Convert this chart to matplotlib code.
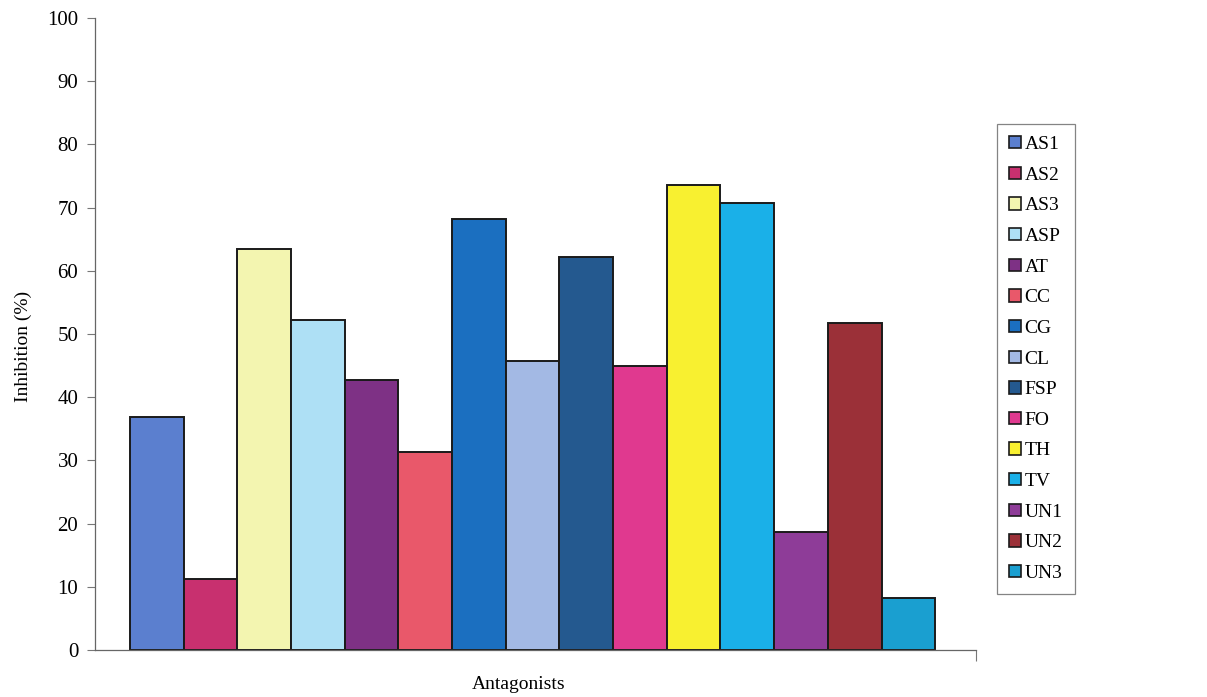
import matplotlib.pyplot as plt
from matplotlib.patches import Patch

plt.rcParams["font.family"] = ["Liberation Serif", "DejaVu Serif"]

# 拮抗菌株及其抑制率
antagonists = ["AS1", "AS2", "AS3", "ASP", "AT", "CC", "CG", "CL",
               "FSP", "FO", "TH", "TV", "UN1", "UN2", "UN3"]
inhibition = [36.9, 11.3, 63.4, 52.2, 42.7, 31.3, 68.2, 45.8,
              62.2, 45.0, 73.6, 70.7, 18.7, 51.8, 8.2]
colors = ["#5b7fcf", "#c8306f", "#f3f5b0", "#aee0f5", "#7e3185",
          "#e9586a", "#1b6fc0", "#a3b9e4", "#24598f", "#e0398f",
          "#f8f030", "#1ab0e8", "#8e3c98", "#9b3038", "#1a9fd0"]
yticks = list(range(0, 101, 10))

fig = plt.figure(figsize=(12.07, 6.97), dpi=100)
ax = fig.add_axes([95 / 1207, 47 / 697, 881 / 1207, 632 / 697])

x = list(range(len(antagonists)))
ax.bar(x, inhibition, width=1.0, color=colors, edgecolor="#1a1a1a", linewidth=1.4)

ax.set_xlim(-1.15, 15.26)
ax.set_ylim(0, 100)
ax.set_yticks(yticks)
ax.set_xticks([15.26])
ax.set_xticklabels([""])
ax.tick_params(axis="y", direction="out", length=6, width=0.8, color="#777777",
               labelsize=15, pad=6)
ax.tick_params(axis="x", direction="out", length=8, width=0.8, color="#777777")

for side in ["top", "right"]:
    ax.spines[side].set_visible(False)
for side in ["left", "bottom"]:
    ax.spines[side].set_color("#666666")
    ax.spines[side].set_linewidth(0.9)

ax.set_ylabel("Inhibition (%)", fontsize=14)
ax.yaxis.set_label_coords(-0.072, 0.48)
ax.set_xlabel("Antagonists", fontsize=14)
ax.xaxis.set_label_coords((519 - 95) / 881, -0.041)

# 图例：方块色标
handles = [Patch(facecolor=c, edgecolor="#1a1a1a", linewidth=1.2) for c in colors]
leg = fig.legend(handles, antagonists, loc="upper left",
                 bbox_to_anchor=(997 / 1207, 1 - 124 / 697),
                 fontsize=14, frameon=True, fancybox=False,
                 handlelength=0.6, handleheight=0.6, handletextpad=0.2,
                 labelspacing=0.70, borderpad=0.62, borderaxespad=0)
leg.get_frame().set_edgecolor("#666666")
leg.get_frame().set_linewidth(0.9)

plt.savefig("out.png", dpi=100)
